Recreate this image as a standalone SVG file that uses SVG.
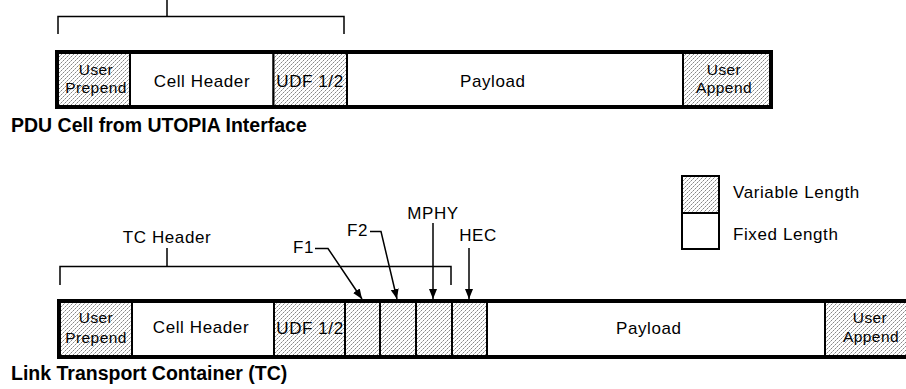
<svg xmlns="http://www.w3.org/2000/svg" width="906" height="389" viewBox="0 0 906 389">
<style>
.lbl{font-family:"Liberation Sans",Arial,sans-serif;font-size:17px;letter-spacing:0.6px;fill:#000}
.sm{font-family:"Liberation Sans",Arial,sans-serif;font-size:15.5px;letter-spacing:0.4px;fill:#000}
.ttl{font-family:"Liberation Sans",Arial,sans-serif;font-size:19.5px;font-weight:bold;fill:#000}
.var{fill:url(#hatch);stroke:#000;stroke-width:2}
.fix{fill:#fff;stroke:#000;stroke-width:2}
.frame{fill:none;stroke:#000;stroke-width:4}
.ln{fill:none;stroke:#000;stroke-width:1.5}
.arr{fill:none;stroke:#000;stroke-width:1.5;marker-end:url(#ah)}
</style>
<defs>
<pattern id="hatch" width="4" height="4" patternUnits="userSpaceOnUse">
<rect width="4" height="4" fill="#fff"/>
<rect x="3" y="0" width="1" height="1" fill="#888"/>
<rect x="1" y="2" width="1" height="1" fill="#888"/>
<rect x="2" y="1" width="1" height="1" fill="#bbb"/>
<rect x="0" y="3" width="1" height="1" fill="#bbb"/>
</pattern>
<marker id="ah" markerWidth="10" markerHeight="8" refX="10" refY="4" orient="auto" markerUnits="userSpaceOnUse">
<path d="M0,0 L10,4 L0,8 Z" fill="#000"/>
</marker>
</defs>
<rect width="906" height="389" fill="#fff"/>

<!-- Top row: PDU cell -->
<g id="pdu-user-prepend"><rect class="var" x="57" y="52" width="73" height="55"/><text class="sm" x="96" y="75" text-anchor="middle">User</text><text class="sm" x="96" y="93" text-anchor="middle">Prepend</text></g>
<g id="pdu-cell-header"><rect class="fix" x="130" y="52" width="143.5" height="55"/><text class="lbl" x="202" y="87" text-anchor="middle">Cell Header</text></g>
<g id="pdu-udf"><rect class="var" x="273.5" y="52" width="73.5" height="55"/><text class="lbl" x="310" y="87" text-anchor="middle">UDF 1/2</text></g>
<g id="pdu-payload"><rect class="fix" x="347" y="52" width="336" height="55"/><text class="lbl" x="460" y="87">Payload</text></g>
<g id="pdu-user-append"><rect class="var" x="683" y="52" width="88" height="55"/><text class="sm" x="724" y="75" text-anchor="middle">User</text><text class="sm" x="724" y="93" text-anchor="middle">Append</text></g>
<rect class="frame" x="57" y="52" width="714" height="55"/>
<text class="ttl" x="11" y="132">PDU Cell from UTOPIA Interface</text>

<!-- Bottom row: TC -->
<g id="tc-user-prepend"><rect class="var" x="59" y="301" width="73" height="56"/><text class="sm" x="96" y="323" text-anchor="middle">User</text><text class="sm" x="96" y="343" text-anchor="middle">Prepend</text></g>
<g id="tc-cell-header"><rect class="fix" x="132" y="301" width="142" height="56"/><text class="lbl" x="201" y="333" text-anchor="middle">Cell Header</text></g>
<g id="tc-udf"><rect class="var" x="274" y="301" width="71" height="56"/><text class="lbl" x="310" y="334" text-anchor="middle">UDF 1/2</text></g>
<g id="tc-f1"><rect class="var" x="345" y="301" width="35" height="56"/></g>
<g id="tc-f2"><rect class="var" x="380" y="301" width="36" height="56"/></g>
<g id="tc-mphy"><rect class="var" x="416" y="301" width="36" height="56"/></g>
<g id="tc-hec"><rect class="var" x="452" y="301" width="35" height="56"/></g>
<g id="tc-payload"><rect class="fix" x="487" y="301" width="338" height="56"/><text class="lbl" x="616" y="334">Payload</text></g>
<g id="tc-user-append"><rect class="var" x="825" y="301" width="90" height="56"/><text class="sm" x="870" y="323" text-anchor="middle">User</text><text class="sm" x="871" y="342" text-anchor="middle">Append</text></g>
<rect class="frame" x="59" y="301" width="860" height="56"/>
<text class="ttl" x="11" y="380">Link Transport Container (TC)</text>

<!-- Legend -->
<g id="legend-variable"><rect class="var" x="682" y="176" width="37" height="37" stroke-width="2.5"/><text class="lbl" x="733" y="198" letter-spacing="1.2">Variable Length</text></g>
<g id="legend-fixed"><rect class="fix" x="682" y="213" width="37" height="36" stroke-width="2.5"/><text class="lbl" x="733" y="240" letter-spacing="1.2">Fixed Length</text></g>

<!-- Labels -->
<g id="lbl-tc-header"><text class="lbl" x="167" y="243" text-anchor="middle">TC Header</text></g>
<g id="lbl-f1"><text class="lbl" x="293" y="253" letter-spacing="3">F1</text></g>
<g id="lbl-f2"><text class="lbl" x="347" y="236" letter-spacing="3">F2</text></g>
<g id="lbl-mphy"><text class="lbl" x="433" y="219" text-anchor="middle" letter-spacing="0">MPHY</text></g>
<g id="lbl-hec"><text class="lbl" x="478" y="241" text-anchor="middle" letter-spacing="0">HEC</text></g>

<!-- Connectors -->
<g id="connectors">
<path class="ln" d="M167,0 V16.5 M58,34 V16.5 H344 V34"/>
<path class="ln" d="M167,248 V266.5 M60,285 V266.5 H451 V285"/>
<path class="arr" d="M315,248.5 H328 L362,299"/>
<path class="arr" d="M370,231.5 H381 L397,299"/>
<path class="arr" d="M433,223 V299"/>
<path class="arr" d="M469,248 V299"/>
</g>
</svg>
